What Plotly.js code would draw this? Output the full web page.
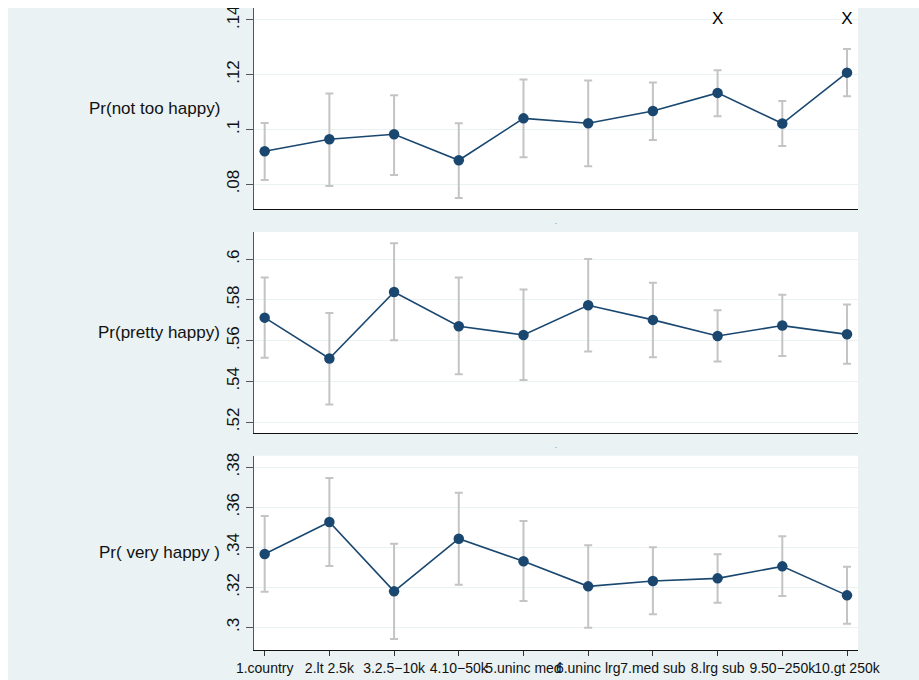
<!DOCTYPE html>
<html>
<head>
<meta charset="utf-8">
<script src="https://cdn.plot.ly/plotly-3.0.1.min.js"></script>
<style>
  html, body { margin: 0; padding: 0; background: #ffffff; }
  #chart { position: absolute; left: 8px; top: 8px; width: 911px; height: 672px; overflow: hidden; }
</style>
</head>
<body>
<div id="chart"></div>
<script>
// ---- Data ----
const categories = ["1.country", "2.lt 2.5k", "3.2.5\u221210k", "4.10\u221250k", "5.uninc med",
                    "6.uninc lrg", "7.med sub", "8.lrg sub", "9.50\u2212250k", "10.gt 250k"];
const catCodes = [1, 2, 3, 4, 5, 6, 7, 8, 9, 10];

const notTooHappy    = [0.0920, 0.0964, 0.0982, 0.0887, 0.1040, 0.1022, 0.1067, 0.1133, 0.1021, 0.1207];
const notTooHappyLo  = [0.0815, 0.0793, 0.0833, 0.0749, 0.0898, 0.0865, 0.0961, 0.1048, 0.0939, 0.1121];
const notTooHappyHi  = [0.1023, 0.1131, 0.1124, 0.1022, 0.1182, 0.1178, 0.1171, 0.1216, 0.1103, 0.1293];

const prettyHappy    = [0.5713, 0.5512, 0.5839, 0.5671, 0.5628, 0.5774, 0.5702, 0.5623, 0.5674, 0.5631];
const prettyHappyLo  = [0.5516, 0.5286, 0.5602, 0.5435, 0.5407, 0.5546, 0.5518, 0.5497, 0.5525, 0.5486];
const prettyHappyHi  = [0.5910, 0.5736, 0.6079, 0.5910, 0.5851, 0.6001, 0.5885, 0.5749, 0.5825, 0.5777];

const veryHappy      = [0.3367, 0.3527, 0.3180, 0.3443, 0.3330, 0.3205, 0.3232, 0.3245, 0.3305, 0.3160];
const veryHappyLo    = [0.3178, 0.3307, 0.2942, 0.3213, 0.3132, 0.2998, 0.3066, 0.3123, 0.3157, 0.3018];
const veryHappyHi    = [0.3557, 0.3747, 0.3418, 0.3673, 0.3532, 0.3410, 0.3400, 0.3365, 0.3455, 0.3303];

const flaggedCodes = [8, 10];   // categories marked with "X" in top panel
const flagValue = 0.14;

const topTicks = [0.08, 0.10, 0.12, 0.14],         topTickText = [".08", ".1", ".12", ".14"];
const midTicks = [0.52, 0.54, 0.56, 0.58, 0.60],   midTickText = [".52", ".54", ".56", ".58", ".6"];
const botTicks = [0.30, 0.32, 0.34, 0.36, 0.38],   botTickText = [".3", ".32", ".34", ".36", ".38"];

// ---- Styles ----
const NAVY = "#1A476F";
const CI = "#C4C4C4";
const BG = "#EAF2F3";
const FONT = "Liberation Sans, Arial, Helvetica, sans-serif";

function ciTrace(y, lo, hi, xa, ya) {
  return {
    x: catCodes, y: y, xaxis: xa, yaxis: ya, type: "scatter", mode: "markers",
    marker: { size: 1, opacity: 0 },
    error_y: {
      type: "data", symmetric: false,
      array: hi.map((h, i) => h - y[i]),
      arrayminus: lo.map((l, i) => y[i] - l),
      color: CI, thickness: 2, width: 4
    },
    hoverinfo: "skip", showlegend: false
  };
}
function lineTrace(y, xa, ya) {
  return {
    x: catCodes, y: y, xaxis: xa, yaxis: ya, type: "scatter", mode: "lines+markers",
    line: { color: NAVY, width: 1.6 },
    marker: { color: NAVY, size: 10.5 },
    showlegend: false
  };
}

const data = [
  ciTrace(notTooHappy, notTooHappyLo, notTooHappyHi, "x", "y"),
  lineTrace(notTooHappy, "x", "y"),
  {
    x: flaggedCodes, y: flaggedCodes.map(() => flagValue), xaxis: "x", yaxis: "y",
    type: "scatter", mode: "text", text: flaggedCodes.map(() => "X"),
    textposition: "middle center", textfont: { family: FONT, size: 17, color: "#000" },
    showlegend: false, hoverinfo: "skip"
  },
  ciTrace(prettyHappy, prettyHappyLo, prettyHappyHi, "x2", "y2"),
  lineTrace(prettyHappy, "x2", "y2"),
  ciTrace(veryHappy, veryHappyLo, veryHappyHi, "x3", "y3"),
  lineTrace(veryHappy, "x3", "y3")
];

const xRange = [0.835, 10.17];
function xAxis(anchor, showLabels) {
  return {
    anchor: anchor, domain: [0, 1], range: xRange,
    showgrid: false, zeroline: false,
    showline: true, linecolor: "#111", linewidth: 1,
    tickmode: "array", tickvals: catCodes, ticktext: categories,
    showticklabels: showLabels, ticks: showLabels ? "outside" : "",
    ticklen: 5, tickcolor: "#333", tickangle: 0,
    tickfont: { family: FONT, size: 14, color: "#111" }
  };
}
function yAxis(anchor, domain, range, vals, text) {
  return {
    anchor: anchor, domain: domain, range: range,
    showgrid: true, gridcolor: BG, gridwidth: 1, zeroline: false,
    showline: true, linecolor: "#555", linewidth: 1,
    tickmode: "array", tickvals: vals, ticktext: text,
    ticks: "outside", ticklen: 7, tickcolor: "#555", tickangle: -90,
    ticklabeloverflow: "allow",
    tickfont: { family: FONT, size: 17, color: "#111" }
  };
}

const titleFont = { family: FONT, size: 17, color: "#111" };
const layout = {
  width: 911, height: 672,
  margin: { l: 246, r: 61, t: 0, b: 30, pad: 0 },
  paper_bgcolor: BG, plot_bgcolor: "#ffffff",
  showlegend: false,
  xaxis: xAxis("y", false),
  yaxis: yAxis("x", [0.6869, 1.0], [0.0709, 0.1443], topTicks, topTickText),
  xaxis2: xAxis("y2", false),
  yaxis2: yAxis("x2", [0.338, 0.6511], [0.5146, 0.6134], midTicks, midTickText),
  xaxis3: xAxis("y3", true),
  yaxis3: yAxis("x3", [0, 0.3027], [0.2887, 0.3858], botTicks, botTickText),
  annotations: [
    { text: "Pr(not too happy)", xref: "paper", yref: "y domain", x: -0.0535, y: 0.5,
      xanchor: "right", yanchor: "middle", showarrow: false, font: titleFont },
    { text: "Pr(pretty happy)", xref: "paper", yref: "y2 domain", x: -0.0535, y: 0.5,
      xanchor: "right", yanchor: "middle", showarrow: false, font: titleFont },
    { text: "Pr( very happy )", xref: "paper", yref: "y3 domain", x: -0.0535, y: 0.5,
      xanchor: "right", yanchor: "middle", showarrow: false, font: titleFont },
    { text: ".", xref: "paper", yref: "paper", x: 0.5, y: 0.667,
      xanchor: "center", yanchor: "middle", showarrow: false, font: { family: FONT, size: 7, color: "#444" } },
    { text: ".", xref: "paper", yref: "paper", x: 0.5, y: 0.318,
      xanchor: "center", yanchor: "middle", showarrow: false, font: { family: FONT, size: 7, color: "#444" } }
  ]
};

Plotly.newPlot("chart", data, layout, { displayModeBar: false, staticPlot: true });
</script>
</body>
</html>
